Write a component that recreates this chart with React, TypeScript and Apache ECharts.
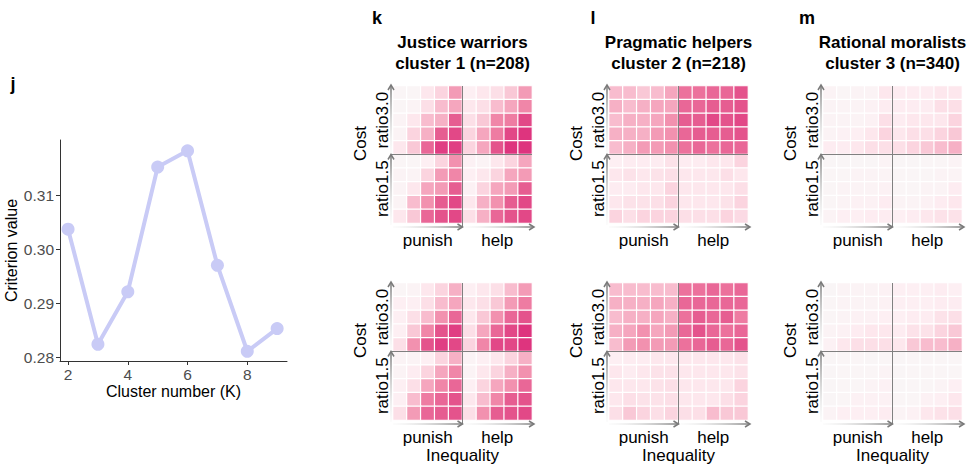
import React, { useEffect, useRef } from "react";
import * as echarts from "echarts";

// ---- Panel j: clustering criterion by number of clusters ----
const clusterK = [2, 3, 4, 5, 6, 7, 8, 9];
const criterionValues = [0.3037, 0.2824, 0.2921, 0.3152, 0.3182, 0.297, 0.2811, 0.2853];
const kTicks = [2, 4, 6, 8];
const criterionTicks = [0.28, 0.29, 0.3, 0.31];

// ---- Panels k, l, m: cluster profiles ----
const panelLetters = ["k", "l", "m"];
const clusterNames = ["Justice warriors", "Pragmatic helpers", "Rational moralists"];
const clusterSizes = ["cluster 1 (n=208)", "cluster 2 (n=218)", "cluster 3 (n=340)"];
const inequalityLabels = ["punish", "help"];
const costLabels = ["ratio3.0", "ratio1.5"];

// Each matrix: 10 rows listed top (ratio3.0) to bottom (ratio1.5),
// 10 columns: 5 punish then 5 help. Intensity 0..10.
const justiceTop = [
  [0.3, 0.3, 1.5, 2.5, 5, 1, 1.5, 2, 3, 5],
  [0.3, 0.5, 2, 3.5, 4.5, 1.5, 2, 3.5, 4.5, 6],
  [0.5, 1.5, 3.5, 4, 8, 2, 3, 6, 6.5, 9],
  [0.5, 2.5, 4, 8, 9, 2.5, 4.5, 6.5, 9, 10],
  [1.5, 3, 7.5, 9.5, 9.5, 2.5, 4.5, 8.5, 10, 10],
  [0.3, 0.3, 1, 2.5, 5.5, 0.7, 0.5, 1.5, 2.5, 4.5],
  [0.5, 0.5, 2.5, 5, 6, 1, 1.5, 2.5, 4.5, 5],
  [0.5, 1.5, 4.5, 5, 8, 0.7, 2.5, 4.5, 5, 8],
  [0.5, 3.5, 5.5, 8, 9, 1.5, 4, 5.5, 8, 9],
  [1.5, 3, 7.5, 8.5, 9, 2, 4, 7.5, 8.5, 9],
];
const justiceBottom = [
  [0.3, 0.5, 1.5, 2.5, 4, 1, 1.5, 2, 3.5, 5],
  [1, 1, 2, 3.5, 4.5, 1.5, 2, 3, 5, 6.5],
  [1, 2, 3.5, 5.5, 7.5, 1.5, 3, 5.5, 7.5, 8.5],
  [1, 3, 6, 8.5, 9.5, 2, 4.5, 7.5, 9, 10],
  [2, 5.5, 8.5, 9.5, 9, 2.5, 6, 9, 9, 10],
  [0.5, 0.5, 1, 2.5, 4, 0.5, 1, 1.5, 2.5, 4],
  [0.5, 1.2, 2.5, 4.5, 6, 0.5, 1.5, 2.5, 4, 5.5],
  [1, 2, 4.5, 6, 7.5, 1, 2.5, 4.5, 5.5, 7.5],
  [1, 3.5, 6.5, 7.5, 8.5, 1.5, 3.5, 6, 8, 8.5],
  [2, 5, 7.5, 8, 8.5, 2, 5.5, 8, 8.5, 9],
];
const pragmaticTop = [
  [3.5, 3.5, 3, 3.5, 4.5, 7, 7, 7.5, 7.5, 8.5],
  [4, 3.5, 4, 4.5, 4.5, 7.5, 7.5, 8, 8, 8.5],
  [3.5, 4, 4, 4.5, 5.5, 8, 8, 9, 8.5, 9],
  [4, 4, 4, 5, 5.5, 7.5, 8, 8, 8, 8.5],
  [3.5, 4, 5, 5, 5.5, 7, 7.5, 7, 7.5, 7.5],
  [1, 1.2, 1.2, 1.2, 1.8, 1.2, 1.2, 1.5, 1.5, 2.5],
  [1.5, 1.8, 1.5, 1.8, 2, 1.5, 1.5, 1.5, 2, 1.5],
  [1.2, 1.2, 1.5, 1.5, 2.5, 1.5, 1.5, 1.5, 1.5, 2],
  [1.5, 1.8, 1.8, 2, 2.5, 1.5, 1.5, 1.5, 1.8, 2.5],
  [2.5, 2, 2.5, 2.5, 2.5, 2, 2, 2, 2.5, 2.2],
];
const pragmaticBottom = [
  [3.5, 3.5, 3.5, 3.5, 3.5, 7, 7, 7.5, 7, 7.5],
  [4, 4, 4, 4.5, 4, 7.5, 7.5, 7.5, 7.5, 7.5],
  [3.5, 4, 4, 4.5, 4, 7, 8, 7.5, 8, 6.5],
  [4, 4.5, 5.5, 4.5, 5, 7.5, 8.5, 7.5, 7, 7.5],
  [3.5, 5, 5.5, 5, 5, 7, 7.5, 8, 7.5, 8.5],
  [1, 1.2, 1.2, 1.5, 1.5, 1.5, 1.5, 1.5, 1.5, 1.8],
  [1.5, 1.2, 1.5, 1.8, 1.8, 1.5, 1.5, 1.5, 1.5, 1.8],
  [1.5, 1.5, 1.5, 1.8, 2, 1.5, 1.5, 1.5, 1.5, 2.5],
  [1.5, 2, 1.8, 1.8, 2, 1.5, 1.5, 1.5, 2, 2.5],
  [2, 3, 2.5, 2, 2.5, 2, 2, 3.5, 3, 3],
];
const rationalTop = [
  [0.5, 0.3, 0.5, 0.5, 1.5, 1.2, 1.2, 1.2, 1.5, 1.5],
  [0.5, 0.5, 0.5, 0.8, 1.2, 1.2, 1.2, 1.2, 2, 2],
  [0.5, 0.5, 0.5, 0.8, 2, 1.2, 1.5, 1.5, 1.5, 2.5],
  [0.5, 0.8, 1, 1.5, 2.5, 1.5, 2, 2, 2.5, 3],
  [1.2, 1.2, 1.5, 2, 2, 2, 2.5, 3, 3.5, 4],
  [0.2, 0.2, 0.2, 0.2, 0.5, 0.2, 0.2, 0.3, 0.3, 0.5],
  [0.3, 0.3, 0.5, 0.5, 0.5, 0.3, 0.3, 0.3, 0.5, 0.5],
  [0.3, 0.5, 0.5, 0.5, 0.8, 0.3, 0.3, 0.5, 0.5, 1.2],
  [0.3, 0.5, 0.8, 0.8, 1.2, 0.5, 0.5, 0.8, 1.2, 1.5],
  [0.5, 1, 1, 1.2, 1.2, 1, 1.2, 1.5, 1.8, 1.8],
];
const rationalBottom = [
  [0.2, 0.5, 0.5, 0.5, 0.8, 1, 1, 1, 1.2, 1],
  [0.3, 0.5, 0.5, 0.5, 0.8, 1, 1, 1, 1.2, 1.2],
  [0.3, 0.5, 0.8, 0.8, 1, 1, 1.2, 1.2, 1.8, 2],
  [0.5, 0.8, 1.2, 1.5, 1.5, 1.2, 1.8, 1.8, 2.5, 3],
  [0.8, 1.5, 2, 2, 2, 1.5, 3, 3.5, 3.5, 4],
  [0.2, 0.3, 0.3, 0.2, 0.3, 0.2, 0.3, 0.3, 0.3, 0.3],
  [0.2, 0.3, 0.3, 0.3, 0.5, 0.2, 0.3, 0.3, 0.3, 0.3],
  [0.2, 0.3, 0.3, 0.5, 0.8, 0.2, 0.3, 0.3, 0.5, 1],
  [0.2, 0.3, 0.8, 0.8, 0.8, 0.3, 0.3, 0.8, 1, 1.5],
  [0.5, 1, 1, 1, 1.2, 0.5, 0.8, 1.5, 1.8, 2],
];

// panels ordered column by column: [top, bottom] for each cluster
const panelMatrices = [
  [justiceTop, justiceBottom],
  [pragmaticTop, pragmaticBottom],
  [rationalTop, rationalBottom],
];

const heatColors = [
  "#f8f7f7", "#fdeff3", "#fcdfe7", "#f9c8d6", "#f6b0c5", "#f39bb6",
  "#f086a8", "#ec719c", "#e65d91", "#e24887", "#de347e",
];

const FONT = '"Liberation Sans", Arial, Helvetica, sans-serif';
const WIDTH = 969;
const HEIGHT = 466;

// layout of the heatmap panels
const HM_LEFT = [393, 609, 823];
const HM_TOP = [86, 283];
const HM_W = 139;
const HM_H = 137;
const ARROW_GREY = "#7a7a7a";
const cellIdx = Array.from({ length: 10 }, (_, i) => String(i));

function arrow(x1: number, y1: number, x2: number, y2: number): any[] {
  const len = Math.hypot(x2 - x1, y2 - y1);
  const dx = (x2 - x1) / len;
  const dy = (y2 - y1) / len;
  const px = -dy;
  const py = dx;
  return [
    {
      type: "line",
      z: 110,
      shape: { x1, y1, x2, y2 },
      style: {
        lineWidth: 1.6,
        stroke: {
          type: "linear",
          x: x1, y: y1, x2, y2,
          global: true,
          colorStops: [
            { offset: 0, color: "rgba(235,235,235,0.2)" },
            { offset: 1, color: ARROW_GREY },
          ],
        },
      },
    },
    {
      type: "polyline",
      z: 111,
      shape: {
        points: [
          [x2 - dx * 5 + px * 3, y2 - dy * 5 + py * 3],
          [x2, y2],
          [x2 - dx * 5 - px * 3, y2 - dy * 5 - py * 3],
        ],
      },
      style: { stroke: ARROW_GREY, lineWidth: 1.5, fill: null },
    },
  ];
}

function text(x: number, y: number, str: string, font: string, extra: any = {}): any {
  return {
    type: "text",
    x,
    y,
    z: 120,
    ...extra,
    style: {
      text: str,
      font,
      fill: "#000",
      align: "center",
      verticalAlign: "middle",
    },
  };
}

function buildGraphics(): any[] {
  const els: any[] = [];
  els.push(text(13, 84, "j", `bold 18px ${FONT}`));
  HM_LEFT.forEach((left, c) => {
    const cx = left + HM_W / 2;
    els.push(text(left - 16, 18, panelLetters[c], `bold 18px ${FONT}`));
    els.push(text(cx, 42, clusterNames[c], `bold 17px ${FONT}`));
    els.push(text(cx, 63, clusterSizes[c], `bold 17px ${FONT}`));
    HM_TOP.forEach((top, r) => {
      const bottom = top + HM_H;
      const midY = top + HM_H / 2;
      const midX = left + HM_W / 2;
      const axX = left - 2;
      const axY = bottom + 4;
      // quadrant dividers
      els.push({
        type: "line", z: 105,
        shape: { x1: midX, y1: top, x2: midX, y2: axY },
        style: { stroke: "#808080", lineWidth: 1 },
      });
      els.push({
        type: "line", z: 105,
        shape: { x1: axX, y1: midY, x2: left + HM_W, y2: midY },
        style: { stroke: "#808080", lineWidth: 1 },
      });
      // cost axis arrows
      els.push(...arrow(axX, bottom + 2, axX, midY));
      els.push(...arrow(axX, midY, axX, top - 1));
      // inequality axis arrows
      els.push(...arrow(left, axY, midX, axY));
      els.push(...arrow(midX + 2, axY, left + HM_W + 2, axY));
      // labels
      els.push(text(left - 33, midY - 11, "Cost", `17px ${FONT}`, { rotation: Math.PI / 2 }));
      els.push(text(left - 11, top + HM_H / 4, costLabels[0], `17px ${FONT}`, { rotation: Math.PI / 2 }));
      els.push(text(left - 11, top + (3 * HM_H) / 4, costLabels[1], `17px ${FONT}`, { rotation: Math.PI / 2 }));
      els.push(text(left + HM_W / 4, bottom + 17, inequalityLabels[0], `17px ${FONT}`));
      els.push(text(left + (3 * HM_W) / 4, bottom + 17, inequalityLabels[1], `17px ${FONT}`));
      if (r === 1) {
        els.push(text(cx, bottom + 35, "Inequality", `17px ${FONT}`));
      }
    });
  });
  return els;
}

function buildOption(): any {
  const grids: any[] = [{ left: 60, top: 140, width: 227, height: 221 }];
  const xAxes: any[] = [
    {
      type: "value",
      gridIndex: 0,
      min: 1.73,
      max: 9.33,
      splitLine: { show: false },
      axisLine: { lineStyle: { color: "#333", width: 1 } },
      axisTick: { show: true, customValues: kTicks, length: 4, lineStyle: { color: "#333" } },
      axisLabel: {
        customValues: kTicks,
        fontSize: 15.5,
        color: "#4d4d4d",
        fontFamily: FONT,
        margin: 5,
      },
      name: "Cluster number (K)",
      nameLocation: "middle",
      nameGap: 22,
      nameTextStyle: { fontSize: 16, color: "#000", fontFamily: FONT },
    },
  ];
  const yAxes: any[] = [
    {
      type: "value",
      gridIndex: 0,
      min: 0.2793,
      max: 0.3202,
      splitLine: { show: false },
      axisLine: { show: true, lineStyle: { color: "#333", width: 1 } },
      axisTick: { show: true, customValues: criterionTicks, length: 4, lineStyle: { color: "#333" } },
      axisLabel: {
        customValues: criterionTicks,
        fontSize: 15.5,
        color: "#4d4d4d",
        fontFamily: FONT,
        margin: 6,
        formatter: (v: number) => v.toFixed(2),
      },
      name: "Criterion value",
      nameLocation: "middle",
      nameGap: 38,
      nameTextStyle: { fontSize: 16, color: "#000", fontFamily: FONT },
    },
  ];
  const series: any[] = [
    {
      type: "line",
      xAxisIndex: 0,
      yAxisIndex: 0,
      data: clusterK.map((k, i) => [k, criterionValues[i]]),
      symbol: "circle",
      symbolSize: 13,
      lineStyle: { color: "#c9cbf6", width: 4 },
      itemStyle: { color: "#c9cbf6" },
      emphasis: { disabled: true },
    },
  ];

  const heatSeriesIdx: number[] = [];
  HM_LEFT.forEach((left, c) => {
    HM_TOP.forEach((top, r) => {
      const gi = grids.length;
      grids.push({ left, top, width: HM_W, height: HM_H });
      xAxes.push({ type: "category", gridIndex: gi, data: cellIdx, show: false });
      yAxes.push({ type: "category", gridIndex: gi, data: cellIdx, show: false });
      const m = panelMatrices[c][r];
      const data: number[][] = [];
      m.forEach((row, ri) => {
        row.forEach((v, ci) => data.push([ci, 9 - ri, v]));
      });
      heatSeriesIdx.push(series.length);
      series.push({
        type: "heatmap",
        xAxisIndex: gi,
        yAxisIndex: gi,
        data,
        itemStyle: { borderColor: "#ffffff", borderWidth: 1.2 },
        emphasis: { disabled: true },
      });
    });
  });

  return {
    animation: false,
    backgroundColor: "#ffffff",
    grid: grids,
    xAxis: xAxes,
    yAxis: yAxes,
    visualMap: {
      type: "continuous",
      show: false,
      min: 0,
      max: 10,
      seriesIndex: heatSeriesIdx,
      inRange: { color: heatColors },
    },
    series,
    graphic: buildGraphics(),
  };
}

export default function App() {
  const ref = useRef<HTMLDivElement>(null);
  useEffect(() => {
    if (!ref.current) return;
    const chart = echarts.init(ref.current, null, { renderer: "svg" });
    chart.setOption(buildOption());
    return () => chart.dispose();
  }, []);
  return (
    <div
      ref={ref}
      style={{ position: "fixed", left: 0, top: 0, width: WIDTH, height: HEIGHT, background: "#fff" }}
    />
  );
}
